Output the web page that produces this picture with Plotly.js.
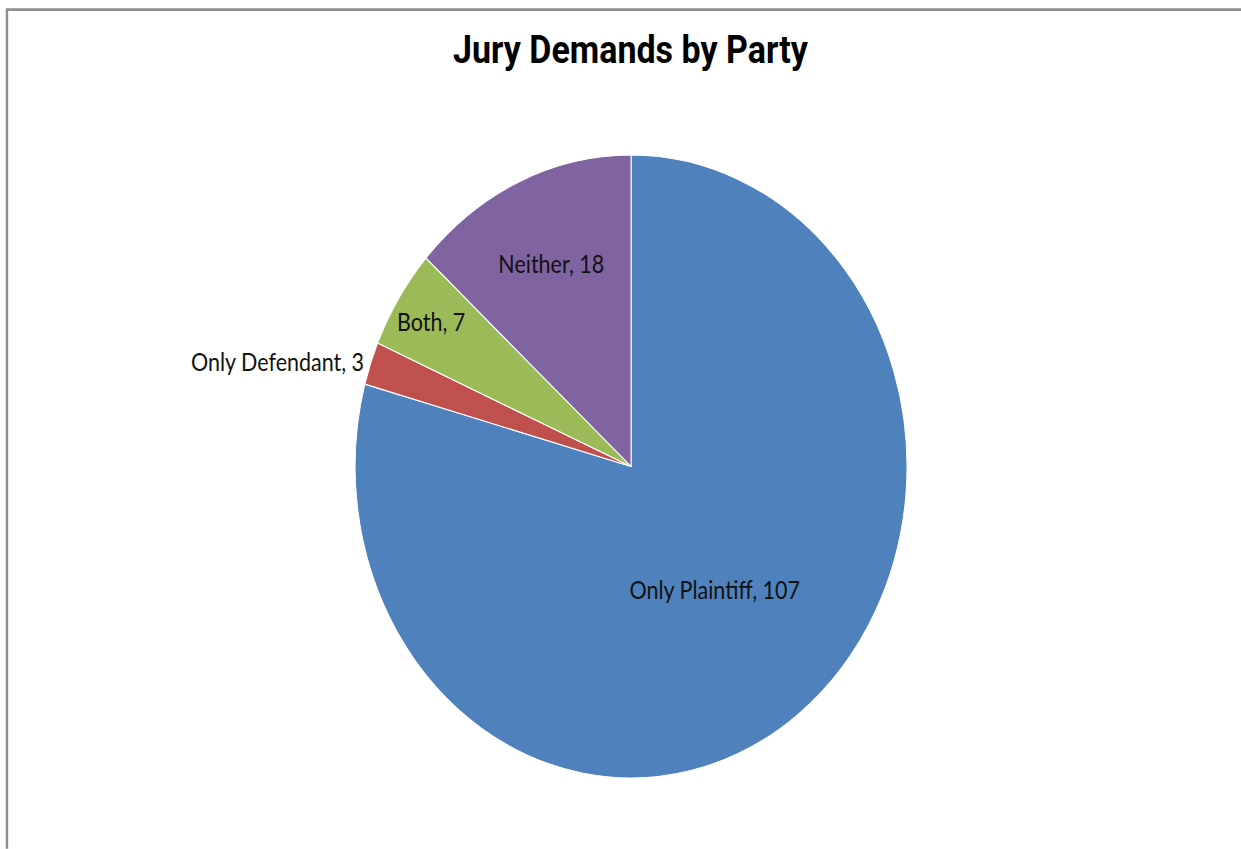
<!DOCTYPE html>
<html>
<head>
<meta charset="utf-8">
<script src="https://cdn.plot.ly/plotly-3.0.1.min.js"></script>
<style>
html, body { margin: 0; padding: 0; width: 1241px; height: 849px; overflow: hidden; background: #fff; }
#wrap { width: 1241px; height: 849px; overflow: hidden; }
#chart { width: 1241px; height: 752px; transform: scaleY(1.1286); transform-origin: 0 0; }
</style>
</head>
<body>
<div id="wrap"><div id="chart"></div></div>
<script>
const chartTitle = "Jury Demands by Party";
const categories = ["Only Plaintiff", "Only Defendant", "Both", "Neither"];
const counts = [107, 3, 7, 18];
const sliceColors = ["#4F81BD", "#C0504D", "#9BBB59", "#8064A2"];
const labelPositions = ["inside", "outside", "inside", "inside"];

const labelFont = { family: "Lato, 'Open Sans', sans-serif", size: 21.5, color: "#111111" };

const trace = {
  type: "pie",
  labels: categories,
  values: counts,
  sort: false,
  direction: "clockwise",
  rotation: 0,
  marker: { colors: sliceColors, line: { color: "#ffffff", width: 1 } },
  texttemplate: "%{label}, %{value}",
  textposition: labelPositions,
  insidetextorientation: "horizontal",
  textfont: labelFont,
  insidetextfont: labelFont,
  outsidetextfont: labelFont,
  hoverinfo: "label+value+percent",
  showlegend: false,
  domain: { x: [0.2861, 0.7309], y: [0.0834, 0.8174] }
};

const layout = {
  width: 1241,
  height: 752,
  margin: { l: 0, r: 0, t: 0, b: 0 },
  paper_bgcolor: "#ffffff",
  title: {
    text: "<b>" + chartTitle + "</b>",
    x: 0.508, xref: "paper", xanchor: "center",
    y: 0.941, yref: "paper", yanchor: "middle",
    font: { family: "Roboto, 'Liberation Sans', sans-serif", size: 34, color: "#000000" }
  },
  shapes: [{
    type: "rect", xref: "paper", yref: "paper",
    x0: 0.0056, x1: 1.02, y0: -0.02, y1: 0.9886,
    line: { color: "#8f8f8f", width: 2.5 }, fillcolor: "rgba(0,0,0,0)"
  }]
};

Plotly.newPlot("chart", [trace], layout, { displayModeBar: false, staticPlot: true });
</script>
</body>
</html>
